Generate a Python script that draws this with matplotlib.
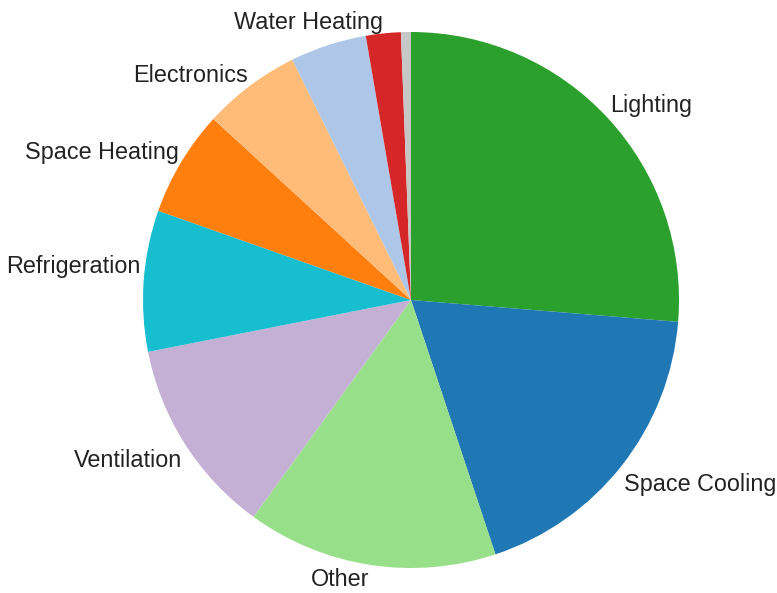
import matplotlib

matplotlib.use("Agg")
import matplotlib.pyplot as plt
import numpy as np

# energy use share by end use (%), clockwise from 12 o'clock
categories = ["Lighting", "Space Cooling", "Other", "Ventilation", "Refrigeration",
              "Space Heating", "Electronics", "Cooking", "Water Heating", "Misc"]
shares = [26.3, 18.6, 15.1, 11.9, 8.5, 6.4, 5.9, 4.6, 2.1, 0.6]
# the two smallest unlabeled wedges in the original
shown_labels = ["Lighting", "Space Cooling", "Other", "Ventilation", "Refrigeration",
                "Space Heating", "Electronics", "", "Water Heating", ""]
colors = ["#2ca02c", "#1f77b4", "#98df8a", "#c5b0d5", "#17becf",
          "#ff7f0e", "#ffbb78", "#aec7e8", "#d62728", "#c7c7c7"]

W, H = 777, 593
CX, CY, R = 411, 300, 268  # pie centre and radius in pixels
LBL_X, LBL_Y = 1.012, 1.07  # labels sit a bit further out vertically
# small vertical label tweaks in pixels (positive = up)
nudge_px = {"Refrigeration": 13, "Water Heating": -8, "Electronics": -5,
            "Space Cooling": -7, "Ventilation": -6, "Other": 4}

plt.rcParams["font.family"] = ["Liberation Sans", "DejaVu Sans"]

fig = plt.figure(figsize=(W / 100, H / 100), dpi=100)
ax = fig.add_axes([0, 0, 1, 1])
wedges, texts = ax.pie(shares, labels=shown_labels, colors=colors, startangle=90,
                       counterclock=False, wedgeprops=dict(linewidth=0),
                       textprops=dict(fontsize=16.8, color="#222222"))
for w, t in zip(wedges, texts):
    ang = np.deg2rad((w.theta1 + w.theta2) / 2)
    dy = nudge_px.get(t.get_text(), 0) / R
    t.set_position((LBL_X * np.cos(ang), LBL_Y * np.sin(ang) + dy))
ax.set_xlim(-CX / R, (W - CX) / R)
ax.set_ylim(-(H - CY) / R, CY / R)
ax.axis("off")
fig.savefig("out.png", dpi=100)
